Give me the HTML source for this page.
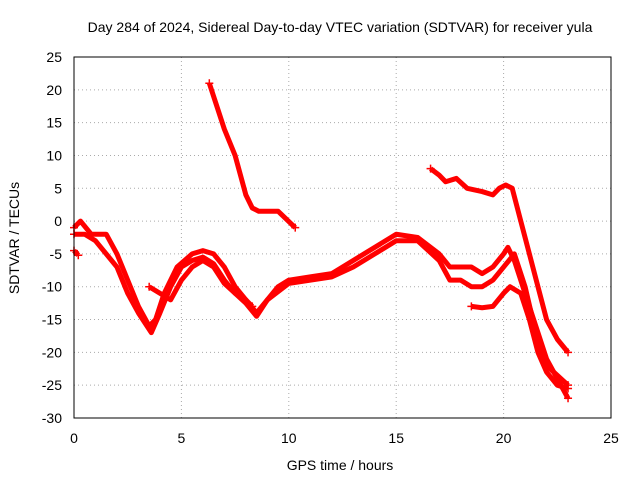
<!DOCTYPE html>
<html><head><meta charset="utf-8"><style>
body{margin:0;background:#fff;}
svg{display:block;font-family:"Liberation Sans",sans-serif;font-size:14px;}
</style></head><body>
<svg id="chart" width="640" height="480">
<text x="340" y="32" text-anchor="middle">Day 284 of 2024, Sidereal Day-to-day VTEC variation (SDTVAR) for receiver yula</text>
<text x="340" y="470" text-anchor="middle">GPS time / hours</text>
<text x="0" y="0" transform="translate(19,238) rotate(-90)" text-anchor="middle">SDTVAR / TECUs</text>
<g id="grid"></g><g id="series"></g>
<rect x="74" y="57" width="537" height="361" fill="none" stroke="#000"/>
</svg>
<script>
const xTicks=[0,5,10,15,20,25];
const yTicks=[25,20,15,10,5,0,-5,-10,-15,-20,-25,-30];
const seriesTop=[[6.3,21],[6.6,18],[7,14],[7.5,10],[8,4],[8.3,2],[8.6,1.5],[9,1.5],[9.5,1.5],[10.3,-1]];
const seriesLate=[[16.6,8],[17,7],[17.3,6],[17.8,6.5],[18.3,5],[19,4.5],[19.5,4],[19.8,5],[20.1,5.5],[20.4,5],[20.8,0],[21.2,-5],[21.6,-10],[22,-15],[22.5,-18],[23,-20]];
const seriesA=[[0,-1],[0.3,0],[0.8,-2],[1.5,-2],[2,-5],[2.5,-9],[3,-13],[3.5,-16],[3.8,-15],[4.2,-11],[4.8,-7],[5.5,-5],[6,-4.5],[6.5,-5],[7,-7],[7.5,-10],[8,-12],[8.5,-14],[9,-12],[9.5,-10],[10,-9],[11,-8.5],[12,-8],[13,-6],[14,-4],[15,-2],[16,-2.5],[17,-5],[17.5,-7],[18,-7],[18.5,-7],[19,-8],[19.5,-7],[20,-5],[20.2,-4],[20.5,-6],[21,-11],[21.5,-16],[22,-21],[22.5,-24],[23,-27]];
const seriesB=[[0,-2],[0.5,-2],[1,-3],[2,-7],[2.5,-11],[3,-14],[3.6,-17],[4,-14],[4.5,-10],[5,-7],[5.5,-6],[6,-5.5],[6.5,-6.5],[7,-9],[7.5,-11],[8,-12.5],[8.5,-14.5],[9,-12],[10,-9.5],[11,-9],[12,-8.5],[13,-7],[14,-5],[15,-3],[16,-3],[17,-6],[17.5,-9],[18,-9],[18.5,-10],[19,-10],[19.5,-9],[20,-7],[20.5,-5],[21,-10],[21.5,-17],[22,-22],[23,-25]];
const seriesC=[[3.5,-10],[4,-11],[4.5,-12],[5,-9],[5.5,-7],[6,-6],[6.5,-7],[7,-9.5],[7.5,-11],[8,-12],[8.3,-13]];
const seriesD=[[18.5,-13],[19,-13.2],[19.5,-13],[20,-11],[20.3,-10],[20.8,-11],[21.2,-15],[21.6,-20],[22,-23],[22.5,-25],[23,-25.5]];
const seriesE=[[0,-4.5],[0.2,-5.2]];
const X=v=>74+v*(537/25), Y=v=>57+(25-v)*(361/55);
const NS="http://www.w3.org/2000/svg";
const g=document.getElementById('grid'), s=document.getElementById('series'), svg=document.getElementById('chart');
xTicks.forEach(t=>{
 const l=document.createElementNS(NS,'line');
 
 
 l.setAttribute('x1',X(t));l.setAttribute('x2',X(t));l.setAttribute('y1',57);l.setAttribute('y2',418);
 l.setAttribute('stroke',(t>0&&t<25)?'#aaa':'none');l.setAttribute('stroke-dasharray','1,3');g.appendChild(l);
 const tx=document.createElementNS(NS,'text');
 
 
 tx.setAttribute('x',X(t));tx.setAttribute('y',443);tx.setAttribute('text-anchor','middle');tx.textContent=t;svg.appendChild(tx);
});
yTicks.forEach(t=>{
 const l=document.createElementNS(NS,'line');
 
 
 l.setAttribute('x1',74);l.setAttribute('x2',611);l.setAttribute('y1',Y(t));l.setAttribute('y2',Y(t));
 l.setAttribute('stroke',(t<25&&t>-30)?'#aaa':'none');l.setAttribute('stroke-dasharray','1,3');g.appendChild(l);
 const tx=document.createElementNS(NS,'text');
 
 
 tx.setAttribute('x',62);tx.setAttribute('y',Y(t)+5);tx.setAttribute('text-anchor','end');tx.textContent=t;svg.appendChild(tx);
});
[seriesTop,seriesLate,seriesA,seriesB,seriesC,seriesD,seriesE].forEach(d=>{
 const p=document.createElementNS(NS,'polyline');
 
 
 p.setAttribute('points',d.map(q=>X(q[0])+','+Y(q[1])).join(' '));
 p.setAttribute('fill','none');p.setAttribute('stroke','#f00');p.setAttribute('stroke-width','5');p.setAttribute('stroke-linejoin','round');
 s.appendChild(p);
 [d[0],d[d.length-1]].forEach(q=>{
  const c=document.createElementNS(NS,'path');
  
  
  const x=X(q[0]),y=Y(q[1]);
  c.setAttribute('d',`M${x-4},${y}H${x+4}M${x},${y-4}V${y+4}`);c.setAttribute('stroke','#f00');c.setAttribute('stroke-width','1.5');
  s.appendChild(c);
 });
});
</script>
</body></html>
